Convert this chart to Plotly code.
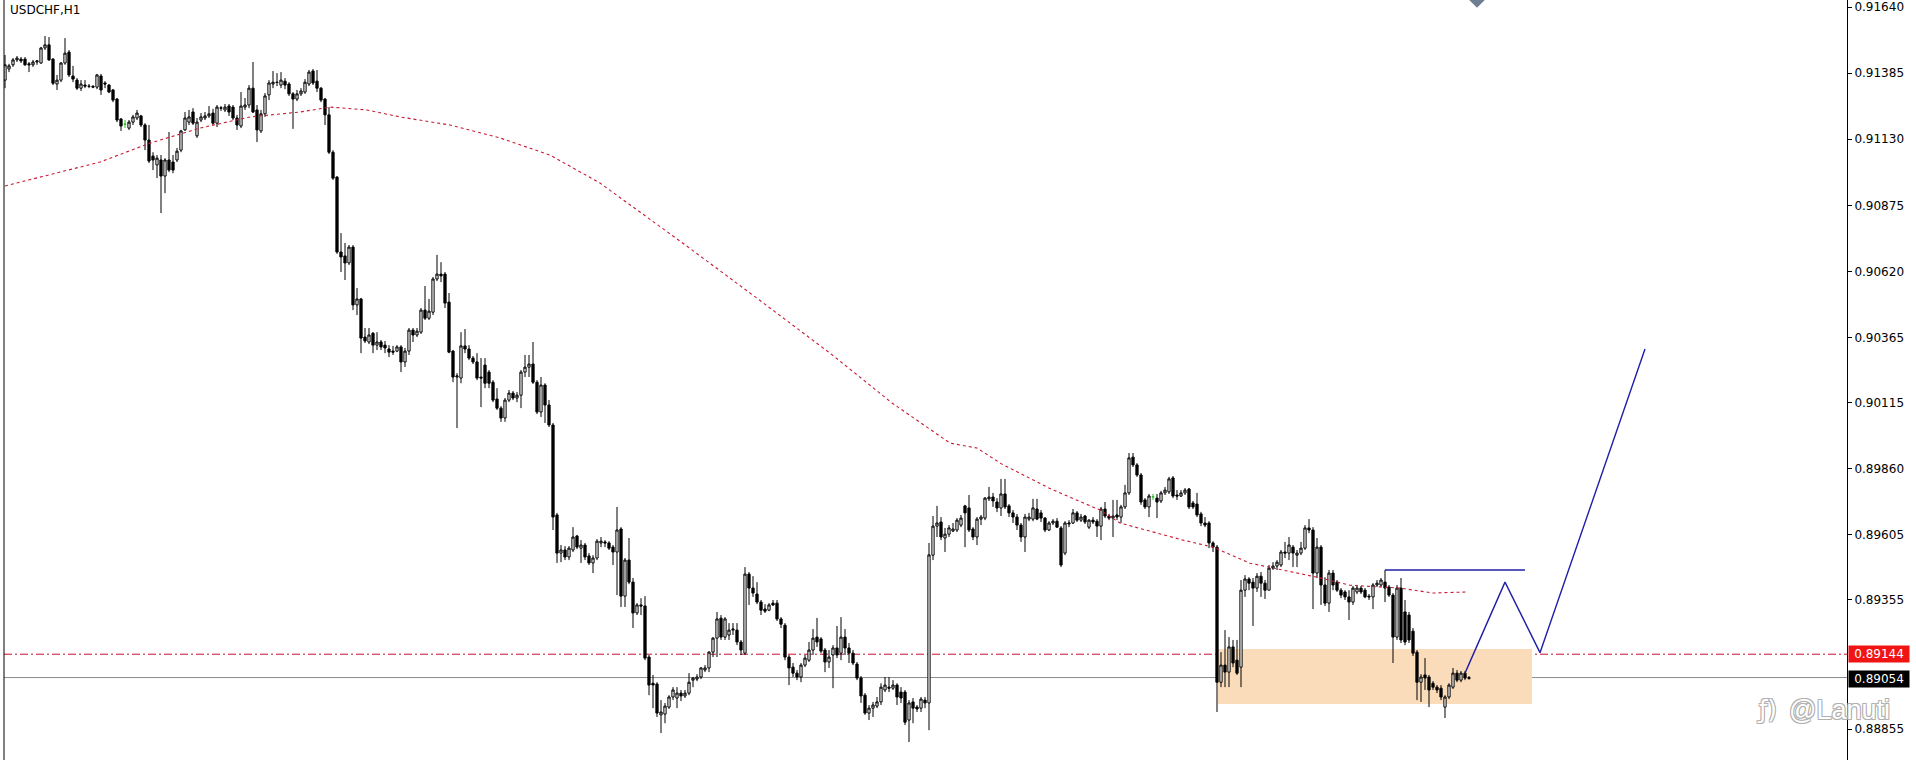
import plotly.graph_objects as go

chart_title = "USDCHF,H1"

opens = [
0.91358,0.91401,0.91417,0.91436,0.91439,0.91439,0.91421,0.91417,0.91428,0.91424,0.91482,0.91494,
0.91439,0.91343,0.91358,0.91424,0.91466,0.91374,0.91358,0.91327,0.91339,0.91335,0.91334,0.91331,
0.91374,0.91347,0.91339,0.91320,0.91285,0.91208,0.91188,0.91173,0.91196,0.91212,0.91220,0.91185,
0.91127,0.91065,0.91031,0.91050,0.90988,0.91050,0.91042,0.91050,0.91088,0.91166,0.91196,0.91235,
0.91143,0.91204,0.91212,0.91220,0.91231,0.91192,0.91251,0.91243,0.91258,0.91254,0.91212,0.91181,
0.91254,0.91262,0.91327,0.91243,0.91162,0.91228,0.91301,0.91343,0.91350,0.91339,0.91354,0.91343,
0.91305,0.91285,0.91305,0.91312,0.91343,0.91393,0.91354,0.91327,0.91285,0.91224,0.91080,0.90984,
0.90695,0.90680,0.90653,0.90714,0.90491,0.90514,0.90367,0.90348,0.90382,0.90336,0.90348,0.90336,
0.90321,0.90313,0.90313,0.90329,0.90271,0.90313,0.90394,0.90375,0.90386,0.90471,0.90440,0.90463,
0.90591,0.90610,0.90610,0.90502,0.90313,0.90213,0.90209,0.90333,0.90321,0.90286,0.90271,0.90213,
0.90259,0.90232,0.90193,0.90128,0.90093,0.90055,0.90124,0.90151,0.90132,0.90143,0.90232,0.90251,
0.90263,0.90193,0.90078,0.90182,0.90105,0.90028,0.89681,0.89534,0.89546,0.89519,0.89546,0.89600,
0.89553,0.89565,0.89523,0.89496,0.89515,0.89573,0.89577,0.89573,0.89557,0.89538,0.89627,0.89368,
0.89507,0.89422,0.89303,0.89334,0.89330,0.89133,0.89032,0.89029,0.88910,0.88913,0.88940,0.88979,
0.88975,0.88994,0.88983,0.88994,0.89044,0.89048,0.89056,0.89083,0.89091,0.89152,0.89206,0.89283,
0.89210,0.89218,0.89237,0.89237,0.89191,0.89148,0.89453,0.89399,0.89376,0.89345,0.89318,0.89314,
0.89341,0.89341,0.89280,0.89256,0.89133,0.89094,0.89071,0.89056,0.89102,0.89121,0.89160,0.89210,
0.89203,0.89160,0.89114,0.89141,0.89168,0.89148,0.89210,0.89168,0.89148,0.89106,0.89052,0.88986,
0.88917,0.88936,0.88944,0.88960,0.89006,0.89017,0.89013,0.89025,0.88998,0.88998,0.88890,0.88960,
0.88940,0.88936,0.88967,0.88956,0.89526,0.89638,0.89654,0.89592,0.89607,0.89619,0.89623,0.89642,
0.89716,0.89708,0.89627,0.89596,0.89665,0.89669,0.89743,0.89750,0.89731,0.89708,0.89762,0.89716,
0.89689,0.89673,0.89642,0.89596,0.89665,0.89665,0.89704,0.89689,0.89669,0.89623,0.89650,0.89657,
0.89631,0.89534,0.89646,0.89650,0.89689,0.89661,0.89677,0.89634,0.89661,0.89657,0.89638,0.89704,
0.89677,0.89669,0.89681,0.89673,0.89712,0.89766,0.89904,0.89874,0.89835,0.89739,0.89712,0.89751,
0.89746,0.89735,0.89766,0.89770,0.89824,0.89758,0.89754,0.89766,0.89781,0.89727,0.89723,0.89685,
0.89650,0.89650,0.89573,0.89557,0.89036,0.89102,0.89075,0.89172,0.89121,0.89094,0.89391,0.89434,
0.89422,0.89399,0.89445,0.89418,0.89391,0.89476,0.89484,0.89488,0.89538,0.89534,0.89557,0.89526,
0.89534,0.89553,0.89631,0.89623,0.89457,0.89557,0.89411,0.89341,0.89457,0.89422,0.89391,0.89384,
0.89365,0.89345,0.89384,0.89399,0.89391,0.89368,0.89365,0.89411,0.89411,0.89422,0.89403,0.89372,
0.89210,0.89399,0.89307,0.89295,0.89233,0.89152,0.89036,0.89064,0.89056,0.89032,0.89017,0.89013,
0.88940,0.88979,0.89017,0.89071,0.89044,0.89071,0.89050,
]

highs = [
0.91455,0.91421,0.91443,0.91451,0.91447,0.91447,0.91428,0.91436,0.91436,0.91486,0.91528,0.91524,
0.91443,0.91378,0.91428,0.91520,0.91474,0.91413,0.91366,0.91358,0.91358,0.91343,0.91339,0.91382,
0.91382,0.91354,0.91343,0.91324,0.91289,0.91212,0.91204,0.91204,0.91224,0.91243,0.91224,0.91192,
0.91185,0.91080,0.91069,0.91069,0.91057,0.91158,0.91069,0.91096,0.91166,0.91235,0.91243,0.91250,
0.91212,0.91231,0.91235,0.91258,0.91247,0.91262,0.91258,0.91266,0.91266,0.91262,0.91224,0.91312,
0.91289,0.91339,0.91428,0.91262,0.91243,0.91308,0.91358,0.91393,0.91385,0.91389,0.91366,0.91350,
0.91312,0.91320,0.91327,0.91362,0.91397,0.91401,0.91397,0.91331,0.91289,0.91254,0.91088,0.90988,
0.90768,0.90730,0.90722,0.90722,0.90556,0.90518,0.90402,0.90402,0.90386,0.90386,0.90356,0.90352,
0.90336,0.90333,0.90336,0.90336,0.90325,0.90402,0.90402,0.90402,0.90479,0.90564,0.90514,0.90599,
0.90684,0.90656,0.90618,0.90537,0.90317,0.90228,0.90386,0.90398,0.90336,0.90294,0.90305,0.90286,
0.90286,0.90240,0.90201,0.90170,0.90101,0.90132,0.90163,0.90159,0.90155,0.90240,0.90298,0.90298,
0.90348,0.90201,0.90213,0.90189,0.90124,0.90036,0.89689,0.89565,0.89561,0.89561,0.89634,0.89604,
0.89584,0.89573,0.89534,0.89526,0.89588,0.89596,0.89584,0.89580,0.89565,0.89712,0.89634,0.89515,
0.89592,0.89438,0.89341,0.89360,0.89368,0.89141,0.89064,0.89036,0.88967,0.88956,0.88986,0.89017,
0.89017,0.89006,0.89006,0.89071,0.89056,0.89067,0.89094,0.89102,0.89156,0.89210,0.89307,0.89295,
0.89287,0.89264,0.89264,0.89264,0.89199,0.89480,0.89461,0.89445,0.89422,0.89353,0.89337,0.89341,
0.89353,0.89353,0.89287,0.89264,0.89141,0.89110,0.89083,0.89110,0.89141,0.89191,0.89241,0.89284,
0.89210,0.89168,0.89160,0.89179,0.89253,0.89287,0.89241,0.89187,0.89160,0.89114,0.89060,0.88994,
0.88948,0.88960,0.88979,0.89032,0.89056,0.89056,0.89044,0.89032,0.89017,0.89006,0.88967,0.88975,
0.88948,0.88979,0.88979,0.89573,0.89677,0.89716,0.89673,0.89631,0.89642,0.89650,0.89669,0.89681,
0.89720,0.89758,0.89634,0.89673,0.89681,0.89750,0.89789,0.89766,0.89746,0.89820,0.89820,0.89723,
0.89700,0.89685,0.89650,0.89685,0.89689,0.89743,0.89743,0.89700,0.89673,0.89657,0.89665,0.89669,
0.89638,0.89657,0.89661,0.89704,0.89696,0.89685,0.89681,0.89665,0.89673,0.89665,0.89712,0.89731,
0.89685,0.89739,0.89739,0.89720,0.89797,0.89920,0.89920,0.89881,0.89843,0.89746,0.89762,0.89762,
0.89762,0.89774,0.89789,0.89828,0.89831,0.89777,0.89777,0.89785,0.89785,0.89735,0.89766,0.89693,
0.89673,0.89657,0.89580,0.89565,0.89152,0.89237,0.89210,0.89199,0.89199,0.89430,0.89449,0.89441,
0.89438,0.89457,0.89461,0.89430,0.89488,0.89499,0.89507,0.89546,0.89577,0.89596,0.89565,0.89546,
0.89577,0.89642,0.89665,0.89634,0.89592,0.89565,0.89441,0.89469,0.89469,0.89430,0.89399,0.89391,
0.89391,0.89407,0.89411,0.89407,0.89399,0.89376,0.89418,0.89430,0.89438,0.89469,0.89411,0.89380,
0.89411,0.89438,0.89353,0.89307,0.89245,0.89160,0.89067,0.89129,0.89064,0.89040,0.89025,0.89025,
0.88986,0.89032,0.89091,0.89083,0.89079,0.89079,0.89060,
]

lows = [
0.91327,0.91389,0.91409,0.91428,0.91424,0.91413,0.91389,0.91409,0.91417,0.91421,0.91474,0.91432,
0.91339,0.91320,0.91350,0.91417,0.91370,0.91350,0.91320,0.91316,0.91327,0.91327,0.91327,0.91323,
0.91301,0.91327,0.91308,0.91273,0.91196,0.91162,0.91173,0.91166,0.91185,0.91204,0.91177,0.91088,
0.91038,0.91011,0.90980,0.90845,0.90922,0.91003,0.90999,0.91042,0.91080,0.91162,0.91185,0.91185,
0.91135,0.91196,0.91204,0.91212,0.91185,0.91177,0.91239,0.91235,0.91220,0.91204,0.91166,0.91173,
0.91243,0.91250,0.91231,0.91119,0.91154,0.91216,0.91281,0.91327,0.91335,0.91327,0.91323,0.91297,
0.91170,0.91277,0.91297,0.91305,0.91335,0.91339,0.91312,0.91273,0.91185,0.91073,0.90973,0.90688,
0.90618,0.90587,0.90645,0.90471,0.90452,0.90305,0.90344,0.90340,0.90305,0.90317,0.90317,0.90305,
0.90290,0.90298,0.90309,0.90232,0.90252,0.90298,0.90348,0.90367,0.90379,0.90433,0.90433,0.90452,
0.90583,0.90579,0.90479,0.90305,0.90193,0.90016,0.90189,0.90305,0.90278,0.90263,0.90201,0.90097,
0.90170,0.90170,0.90116,0.90086,0.90040,0.90040,0.90116,0.90124,0.90116,0.90093,0.90213,0.90213,
0.90186,0.90070,0.90059,0.90036,0.90020,0.89623,0.89496,0.89499,0.89507,0.89507,0.89538,0.89549,
0.89496,0.89507,0.89488,0.89457,0.89507,0.89557,0.89557,0.89546,0.89488,0.89372,0.89326,0.89326,
0.89414,0.89245,0.89295,0.89295,0.89121,0.88986,0.88936,0.88902,0.88840,0.88878,0.88933,0.88967,
0.88936,0.88963,0.88975,0.88986,0.89017,0.89040,0.89048,0.89075,0.89075,0.89133,0.89133,0.89199,
0.89199,0.89199,0.89218,0.89179,0.89141,0.89141,0.89334,0.89365,0.89337,0.89295,0.89303,0.89310,
0.89330,0.89272,0.89245,0.89121,0.89025,0.89056,0.89044,0.89036,0.89094,0.89114,0.89141,0.89172,
0.89148,0.89075,0.89091,0.89013,0.89129,0.89121,0.89141,0.89110,0.89102,0.89044,0.88956,0.88910,
0.88890,0.88902,0.88936,0.88948,0.88998,0.88998,0.89006,0.88948,0.88956,0.88871,0.88805,0.88878,
0.88921,0.88921,0.88936,0.88851,0.89507,0.89596,0.89584,0.89538,0.89596,0.89615,0.89615,0.89634,
0.89557,0.89615,0.89584,0.89565,0.89642,0.89661,0.89735,0.89712,0.89692,0.89677,0.89704,0.89673,
0.89650,0.89623,0.89577,0.89538,0.89657,0.89657,0.89661,0.89654,0.89615,0.89619,0.89642,0.89631,
0.89480,0.89526,0.89634,0.89646,0.89654,0.89654,0.89646,0.89627,0.89646,0.89596,0.89584,0.89669,
0.89661,0.89596,0.89661,0.89650,0.89704,0.89758,0.89866,0.89828,0.89720,0.89704,0.89673,0.89739,
0.89669,0.89727,0.89758,0.89762,0.89746,0.89739,0.89750,0.89758,0.89704,0.89704,0.89673,0.89638,
0.89634,0.89553,0.89538,0.88921,0.89017,0.89017,0.89017,0.89094,0.89064,0.89017,0.89365,0.89391,
0.89253,0.89384,0.89365,0.89357,0.89391,0.89469,0.89469,0.89480,0.89515,0.89507,0.89480,0.89480,
0.89526,0.89546,0.89611,0.89318,0.89438,0.89334,0.89330,0.89307,0.89391,0.89384,0.89360,0.89353,
0.89276,0.89334,0.89376,0.89376,0.89360,0.89353,0.89318,0.89403,0.89403,0.89345,0.89365,0.89110,
0.89199,0.89187,0.89179,0.89187,0.89137,0.88967,0.88960,0.89006,0.88940,0.89006,0.88994,0.88967,
0.88898,0.88971,0.89010,0.89036,0.89036,0.89044,0.89046,
]

closes = [
0.91417,0.91413,0.91436,0.91443,0.91432,0.91417,0.91417,0.91428,0.91432,0.91482,0.91494,0.91436,
0.91346,0.91358,0.91424,0.91462,0.91378,0.91362,0.91327,0.91343,0.91335,0.91334,0.91331,0.91378,
0.91320,0.91343,0.91312,0.91281,0.91204,0.91181,0.91188,0.91196,0.91216,0.91231,0.91185,0.91127,
0.91046,0.91050,0.91057,0.90988,0.91050,0.91011,0.91011,0.91084,0.91162,0.91212,0.91216,0.91192,
0.91196,0.91216,0.91220,0.91228,0.91192,0.91254,0.91250,0.91254,0.91235,0.91212,0.91185,0.91258,
0.91262,0.91327,0.91235,0.91166,0.91228,0.91297,0.91347,0.91350,0.91349,0.91358,0.91339,0.91305,
0.91285,0.91305,0.91316,0.91350,0.91389,0.91347,0.91327,0.91281,0.91224,0.91080,0.90980,0.90695,
0.90676,0.90653,0.90714,0.90491,0.90514,0.90363,0.90352,0.90375,0.90336,0.90348,0.90329,0.90325,
0.90309,0.90309,0.90329,0.90271,0.90313,0.90394,0.90375,0.90390,0.90471,0.90440,0.90467,0.90591,
0.90610,0.90603,0.90498,0.90309,0.90213,0.90217,0.90333,0.90321,0.90286,0.90271,0.90209,0.90209,
0.90189,0.90189,0.90124,0.90093,0.90055,0.90124,0.90151,0.90132,0.90143,0.90232,0.90251,0.90263,
0.90193,0.90078,0.90182,0.90105,0.90028,0.89673,0.89534,0.89546,0.89519,0.89553,0.89596,0.89557,
0.89565,0.89519,0.89496,0.89515,0.89580,0.89580,0.89573,0.89553,0.89538,0.89623,0.89368,0.89507,
0.89422,0.89303,0.89334,0.89330,0.89129,0.89025,0.89025,0.88917,0.88921,0.88944,0.88979,0.89006,
0.88994,0.88983,0.88994,0.89036,0.89052,0.89056,0.89091,0.89091,0.89152,0.89206,0.89280,0.89210,
0.89280,0.89237,0.89241,0.89191,0.89160,0.89453,0.89399,0.89380,0.89345,0.89314,0.89310,0.89334,
0.89334,0.89280,0.89260,0.89133,0.89091,0.89071,0.89056,0.89102,0.89129,0.89160,0.89206,0.89191,
0.89156,0.89114,0.89133,0.89168,0.89141,0.89210,0.89168,0.89148,0.89110,0.89052,0.88983,0.88917,
0.88936,0.88948,0.88960,0.89017,0.89025,0.89013,0.89025,0.88979,0.88975,0.88882,0.88956,0.88936,
0.88933,0.88971,0.88956,0.89527,0.89638,0.89650,0.89596,0.89607,0.89631,0.89627,0.89661,0.89669,
0.89689,0.89623,0.89596,0.89665,0.89673,0.89746,0.89750,0.89735,0.89708,0.89762,0.89712,0.89689,
0.89673,0.89642,0.89596,0.89673,0.89673,0.89708,0.89665,0.89669,0.89623,0.89650,0.89657,0.89634,
0.89488,0.89650,0.89650,0.89689,0.89661,0.89673,0.89654,0.89661,0.89654,0.89638,0.89704,0.89677,
0.89669,0.89677,0.89673,0.89712,0.89766,0.89901,0.89874,0.89835,0.89731,0.89712,0.89754,0.89751,
0.89731,0.89766,0.89777,0.89820,0.89754,0.89754,0.89766,0.89777,0.89712,0.89712,0.89681,0.89650,
0.89642,0.89573,0.89557,0.89036,0.89102,0.89075,0.89172,0.89110,0.89071,0.89391,0.89434,0.89418,
0.89399,0.89445,0.89418,0.89391,0.89476,0.89484,0.89499,0.89538,0.89534,0.89565,0.89534,0.89534,
0.89553,0.89631,0.89623,0.89457,0.89557,0.89411,0.89341,0.89457,0.89411,0.89391,0.89372,0.89365,
0.89345,0.89399,0.89399,0.89384,0.89365,0.89365,0.89411,0.89418,0.89430,0.89399,0.89372,0.89210,
0.89399,0.89199,0.89191,0.89199,0.89148,0.89036,0.89056,0.89052,0.89006,0.89017,0.89006,0.88979,
0.88979,0.89025,0.89071,0.89044,0.89071,0.89052,0.89054,
]

doji_bars = [30, 287]

ma_bars = [0, 23.75, 36.25, 48.75, 61.25, 73.75, 81.25, 90.5, 98.75, 111.25, 123.75, 136.25,
           148.75, 169.75, 188.25, 206.5, 221.75, 231, 236.25, 243, 249.25, 261.5, 273.75,
           278.75, 294.5, 302, 311.25, 328, 336.25, 348.75, 357, 365.5]
ma_values = [0.90950, 0.91042, 0.91115, 0.91173, 0.91216, 0.91235, 0.91254, 0.91243, 0.91216,
             0.91185, 0.91135, 0.91069, 0.90961, 0.90726, 0.90514, 0.90302, 0.90113, 0.90016,
             0.89958, 0.89939, 0.89877, 0.89781, 0.89700, 0.89650, 0.89584, 0.89557, 0.89495,
             0.89441, 0.89410, 0.89399, 0.89380, 0.89384]

tick_values = [0.91640, 0.91385, 0.91130, 0.90875, 0.90620, 0.90365, 0.90115, 0.89860,
               0.89605, 0.89355, 0.88855]
tick_labels = ["0.91640", "0.91385", "0.91130", "0.90875", "0.90620", "0.90365", "0.90115",
               "0.89860", "0.89605", "0.89355", "0.88855"]

level_price = 0.89144
level_label = "0.89144"
bid_price = 0.89054
bid_label = "0.89054"

zone_bars = [303.25, 381.75]
zone_prices = [0.88952, 0.89164]

resist_bars = [345, 380]
resist_prices = [0.89469, 0.89469]

path_bars = [365, 375, 383.75, 410]
path_prices = [0.89071, 0.89422, 0.89150, 0.90321]

marker_bar = [368]
marker_price = [0.91667]

x_range = [-0.25, 460.5]
y_range = [0.88736, 0.91667]

watermark = "@Lanuti"
logo_text = "ƒ)"
watermark_price = 0.88930

# ---------------------------------------------------------------
n = len(closes)
idx = list(range(n))
main = [i for i in idx if i not in doji_bars]

fig = go.Figure()

fig.add_trace(go.Candlestick(
    x=main,
    open=[opens[i] for i in main], high=[highs[i] for i in main],
    low=[lows[i] for i in main], close=[closes[i] for i in main],
    increasing=dict(line=dict(color="black", width=1), fillcolor="white"),
    decreasing=dict(line=dict(color="black", width=1), fillcolor="black"),
    whiskerwidth=0, hoverinfo="skip", showlegend=False,
))
fig.add_trace(go.Candlestick(
    x=doji_bars,
    open=[opens[i] for i in doji_bars], high=[highs[i] for i in doji_bars],
    low=[lows[i] for i in doji_bars], close=[closes[i] for i in doji_bars],
    increasing=dict(line=dict(color="#22c022", width=1), fillcolor="#22c022"),
    decreasing=dict(line=dict(color="#22c022", width=1), fillcolor="#22c022"),
    whiskerwidth=0, hoverinfo="skip", showlegend=False,
))

fig.add_trace(go.Scatter(
    x=ma_bars, y=ma_values, mode="lines",
    line=dict(color="#c81a34", width=1.1, dash="3px,3px"),
    hoverinfo="skip", showlegend=False,
))

blue = "#1f1fa8"
fig.add_trace(go.Scatter(
    x=resist_bars, y=resist_prices, mode="lines",
    line=dict(color=blue, width=1.4), hoverinfo="skip", showlegend=False,
))
fig.add_trace(go.Scatter(
    x=path_bars, y=path_prices, mode="lines",
    line=dict(color=blue, width=1.4), hoverinfo="skip", showlegend=False,
))
fig.add_trace(go.Scatter(
    x=marker_bar, y=marker_price, mode="markers",
    marker=dict(symbol="diamond", size=12, color="#6e7f93"),
    hoverinfo="skip", showlegend=False,
))

shapes = [
    dict(type="rect", xref="x", yref="y", x0=zone_bars[0], x1=zone_bars[1],
         y0=zone_prices[0], y1=zone_prices[1], fillcolor="#fbdcba",
         line=dict(width=0), layer="below"),
    dict(type="line", xref="paper", yref="y", x0=0, x1=1, y0=level_price, y1=level_price,
         line=dict(color="#c8102e", width=1, dash="8px,3px,2px,3px"), layer="below"),
    dict(type="line", xref="paper", yref="y", x0=0, x1=1, y0=bid_price, y1=bid_price,
         line=dict(color="#8c8c8c", width=1), layer="below"),
    dict(type="line", xref="paper", yref="paper", x0=0, x1=0, y0=0, y1=1,
         line=dict(color="black", width=1)),
]

outline = "-1px -1px 0 #b0b0b0, 1px -1px 0 #b0b0b0, -1px 1px 0 #b0b0b0, 1px 1px 0 #b0b0b0"
annotations = [
    dict(text=chart_title, xref="paper", yref="paper", x=0, y=1, xanchor="left",
         yanchor="top", xshift=4, yshift=-1, showarrow=False,
         font=dict(family="DejaVu Sans", size=12, color="black")),
    dict(text=level_label, xref="paper", yref="y", x=1, y=level_price, xanchor="left",
         yanchor="middle", xshift=1, showarrow=False, bgcolor="#f01414",
         width=58, height=14, borderpad=1,
         font=dict(family="DejaVu Sans", size=12, color="white")),
    dict(text=bid_label, xref="paper", yref="y", x=1, y=bid_price, xanchor="left",
         yanchor="middle", xshift=1, yshift=-1, showarrow=False, bgcolor="black",
         width=58, height=14, borderpad=1,
         font=dict(family="DejaVu Sans", size=12, color="white")),
    dict(text=watermark, xref="x", yref="y", x=445.5, y=watermark_price, xanchor="left",
         yanchor="middle", showarrow=False,
         font=dict(family="Liberation Sans", size=27, color="white", shadow=outline)),
    dict(text=logo_text, xref="x", yref="y", x=437.5, y=watermark_price, xanchor="left",
         yanchor="middle", showarrow=False,
         font=dict(family="DejaVu Sans", size=24, color="white", shadow=outline)),
]

fig.update_layout(
    width=1916, height=760,
    margin=dict(l=4, r=69, t=0, b=0),
    paper_bgcolor="white", plot_bgcolor="white",
    showlegend=False, boxgap=0.2,
    shapes=shapes, annotations=annotations,
    xaxis=dict(range=x_range, showticklabels=False, showgrid=False, zeroline=False,
               showline=False, ticks="", rangeslider=dict(visible=False), fixedrange=True),
    yaxis=dict(range=y_range, side="right", tickvals=tick_values, ticktext=tick_labels,
               ticks="outside", ticklen=4, tickcolor="black", showline=True,
               linecolor="black", linewidth=1, showgrid=False, zeroline=False,
               tickfont=dict(family="DejaVu Sans", size=12, color="black"), fixedrange=True),
)

fig.write_html("out.html", config={"displayModeBar": False},
               post_script="document.body.style.margin='0';")
